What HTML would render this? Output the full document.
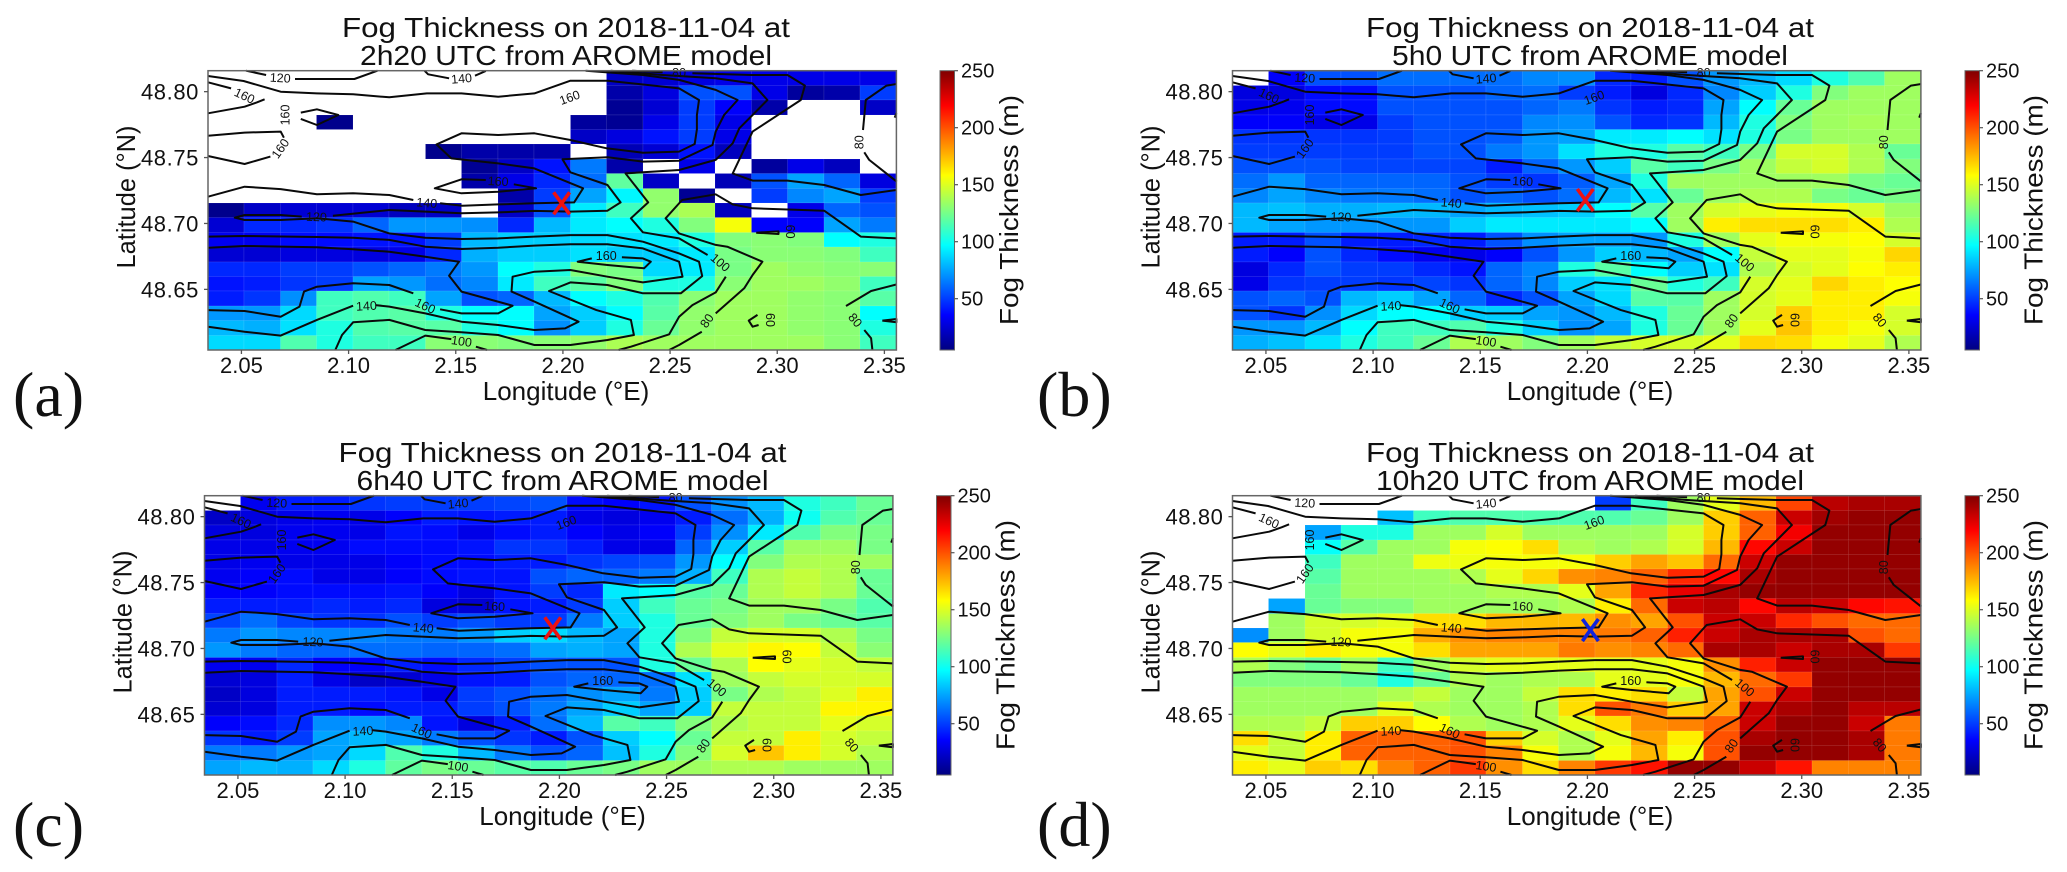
<!DOCTYPE html>
<html lang="en">
<head>
<meta charset="utf-8">
<title>Fog Thickness from AROME model</title>
<style>
html,body{margin:0;padding:0;background:#fff;}
svg{display:block;font-family:"Liberation Sans",Arial,sans-serif;fill:#111;}
.title{font-size:28px;text-anchor:middle;}
.axl{font-size:26px;text-anchor:middle;}
.letter{font-family:"Liberation Serif",serif;font-size:64px;}
</style>
</head>
<body>
<svg id="fig" xmlns="http://www.w3.org/2000/svg" width="2067" height="872" viewBox="0 0 2067 872">
  <g id="panel-a">
    <text class="title" x="566" y="37" textLength="448" lengthAdjust="spacingAndGlyphs">Fog Thickness on 2018-11-04 at</text>
    <text class="title" x="566" y="65" textLength="412" lengthAdjust="spacingAndGlyphs">2h20 UTC from AROME model</text>
    <text class="axl" x="566" y="400">Longitude (°E)</text>
    <text class="axl" transform="translate(135,197) rotate(-90)" textLength="143" lengthAdjust="spacingAndGlyphs">Latitude (°N)</text>
    <text class="axl" transform="translate(1018,210) rotate(-90)" textLength="230" lengthAdjust="spacingAndGlyphs">Fog Thickness (m)</text>
    <text class="letter" x="13" y="416">(a)</text>
  </g>
  <g id="panel-b">
    <text class="title" x="1590" y="37" textLength="448" lengthAdjust="spacingAndGlyphs">Fog Thickness on 2018-11-04 at</text>
    <text class="title" x="1590" y="65" textLength="396" lengthAdjust="spacingAndGlyphs">5h0 UTC from AROME model</text>
    <text class="axl" x="1590" y="400">Longitude (°E)</text>
    <text class="axl" transform="translate(1159.5,197) rotate(-90)" textLength="143" lengthAdjust="spacingAndGlyphs">Latitude (°N)</text>
    <text class="axl" transform="translate(2042.5,210) rotate(-90)" textLength="230" lengthAdjust="spacingAndGlyphs">Fog Thickness (m)</text>
    <text class="letter" x="1037" y="416">(b)</text>
  </g>
  <g id="panel-c">
    <text class="title" x="562.5" y="462" textLength="448" lengthAdjust="spacingAndGlyphs">Fog Thickness on 2018-11-04 at</text>
    <text class="title" x="562.5" y="490" textLength="412" lengthAdjust="spacingAndGlyphs">6h40 UTC from AROME model</text>
    <text class="axl" x="562.5" y="825">Longitude (°E)</text>
    <text class="axl" transform="translate(131.5,622) rotate(-90)" textLength="143" lengthAdjust="spacingAndGlyphs">Latitude (°N)</text>
    <text class="axl" transform="translate(1014.5,635) rotate(-90)" textLength="230" lengthAdjust="spacingAndGlyphs">Fog Thickness (m)</text>
    <text class="letter" x="13" y="846">(c)</text>
  </g>
  <g id="panel-d">
    <text class="title" x="1590" y="462" textLength="448" lengthAdjust="spacingAndGlyphs">Fog Thickness on 2018-11-04 at</text>
    <text class="title" x="1590" y="490" textLength="428" lengthAdjust="spacingAndGlyphs">10h20 UTC from AROME model</text>
    <text class="axl" x="1590" y="825">Longitude (°E)</text>
    <text class="axl" transform="translate(1159.5,622) rotate(-90)" textLength="143" lengthAdjust="spacingAndGlyphs">Latitude (°N)</text>
    <text class="axl" transform="translate(2042.5,635) rotate(-90)" textLength="230" lengthAdjust="spacingAndGlyphs">Fog Thickness (m)</text>
    <text class="letter" x="1037" y="846">(d)</text>
  </g>
</svg>
<script>
const _ = null;
const xTicks = [2.05, 2.10, 2.15, 2.20, 2.25, 2.30, 2.35];
const xTickLabels = ["2.05", "2.10", "2.15", "2.20", "2.25", "2.30", "2.35"];
const yTicks = [48.65, 48.70, 48.75, 48.80];
const yTickLabels = ["48.65", "48.70", "48.75", "48.80"];
const cbarTicks = [50, 100, 150, 200, 250];
const cbarTickLabels = ["50", "100", "150", "200", "250"];
const lonRange = [2.0344, 2.3556];
const latRange = [48.604, 48.8159];
const valueRange = [5, 250];

// thickness per cell, top row first (null = no fog, white)
const thicknessA = [
[_,_,_,_,_,_,_,_,_,_,_,22,25,28,30,30,30,30,30],
[_,_,_,_,_,_,_,_,_,_,_,15,28,55,55,30,12,15,50],
[_,_,_,_,_,_,_,_,_,_,_,10,25,50,35,15,_,_,22],
[_,_,_,8,_,_,_,_,_,_,12,10,30,50,30,_,_,_,_],
[_,_,_,_,_,_,_,_,_,_,22,28,40,50,30,_,_,_,_],
[_,_,_,_,_,_,8,15,15,15,_,18,25,40,20,_,_,_,_],
[_,_,_,_,_,_,_,10,22,40,65,15,_,30,_,12,30,20,_],
[_,_,_,_,_,_,_,15,30,45,62,120,22,_,18,55,75,60,28],
[_,_,_,_,_,_,_,_,15,50,75,95,132,10,_,50,68,75,50],
[8,22,25,25,25,20,22,_,22,55,92,112,132,138,20,_,30,60,55],
[25,45,45,48,60,72,72,70,45,80,92,97,104,128,156,35,35,75,65],
[32,32,38,38,40,40,50,80,85,85,88,90,92,104,128,130,128,97,104],
[25,25,28,28,28,30,45,78,85,85,90,85,85,92,126,130,130,128,112],
[45,45,50,50,55,60,65,72,97,104,128,126,88,92,126,135,132,130,130],
[40,42,48,50,75,72,62,68,92,112,118,128,104,104,130,135,135,132,112],
[42,48,70,112,116,112,75,55,60,80,97,104,116,130,135,135,132,130,118],
[72,72,88,112,116,118,104,97,97,75,85,97,118,132,135,135,132,130,97],
[80,78,90,104,116,118,118,104,97,70,85,104,122,132,135,135,132,130,104],
[88,88,116,104,112,112,130,130,128,130,132,138,135,135,135,135,135,130,112]
];
const thicknessB = [
[_,35,55,55,62,62,62,62,68,70,45,42,55,72,80,88,104,116,135],
[28,28,38,38,55,55,55,60,62,50,42,28,45,68,85,104,128,135,135],
[30,32,38,38,55,55,55,55,60,65,48,42,45,75,97,122,135,135,135],
[35,35,30,30,50,55,55,55,68,70,55,45,48,80,104,128,135,137,135],
[48,48,48,48,50,55,55,58,72,75,92,92,97,90,104,126,135,135,135],
[50,50,50,50,50,55,55,65,72,90,104,104,118,112,126,148,148,139,122],
[55,55,55,52,52,52,52,42,60,72,85,118,112,126,135,144,148,139,128],
[62,72,60,60,60,60,55,50,48,58,75,104,135,135,135,135,135,126,122],
[68,75,68,65,65,62,55,60,55,62,80,90,122,135,139,139,126,122,126],
[80,82,78,78,80,80,75,80,82,85,97,118,135,148,152,156,156,148,135],
[80,75,72,72,72,72,85,92,92,92,92,97,135,162,166,166,166,162,139],
[42,42,55,42,42,45,42,55,70,75,75,72,104,135,152,156,156,158,148],
[42,35,55,45,38,32,30,35,55,72,85,80,75,97,144,152,152,156,168],
[28,45,55,50,50,45,40,60,68,104,118,97,85,90,139,148,152,158,162],
[30,48,50,50,48,52,48,60,68,85,90,122,104,112,148,152,168,162,158],
[55,60,55,80,85,75,60,45,55,75,88,118,118,135,148,152,162,162,156],
[55,48,70,88,97,97,85,85,75,72,80,104,122,135,148,170,162,162,148],
[72,72,80,97,112,112,116,104,85,70,75,104,122,135,152,172,162,156,148],
[78,82,90,104,112,122,139,135,128,135,144,148,148,152,168,166,156,152,139]
];
const thicknessC = [
[_,32,42,42,48,50,50,50,52,55,38,35,40,55,70,80,104,112,122],
[22,28,30,32,30,35,42,40,42,42,30,28,32,42,62,78,100,116,122],
[28,28,32,32,30,40,38,30,38,42,35,30,35,50,70,92,116,128,126],
[30,30,32,32,38,38,38,40,48,48,42,30,30,60,85,118,135,135,126],
[30,32,30,30,30,35,38,38,42,42,48,52,55,72,97,128,139,139,135],
[32,35,38,30,30,35,38,40,40,55,60,60,65,78,112,139,144,139,122],
[35,35,38,38,38,40,35,28,40,50,45,92,97,118,122,139,144,139,122],
[42,42,42,45,42,45,28,25,40,42,50,85,112,122,126,135,135,126,116],
[52,62,52,48,48,55,50,55,50,50,65,85,104,122,128,135,126,122,118],
[65,72,68,68,68,65,65,72,85,88,80,75,104,128,144,148,148,139,126],
[72,65,60,60,62,62,60,60,62,75,78,75,104,139,152,160,158,144,130],
[32,32,45,35,35,42,38,45,50,55,55,55,104,122,139,158,152,148,144],
[25,28,42,30,22,25,30,40,42,55,60,60,62,90,135,144,148,148,148],
[22,28,42,42,42,40,30,50,55,62,70,75,65,85,126,139,144,150,162],
[25,28,42,42,38,42,42,50,55,65,75,85,75,85,144,144,144,160,160],
[35,38,45,70,72,68,40,28,42,62,80,118,112,128,139,144,144,152,148],
[48,42,50,75,80,75,65,55,48,42,55,85,97,122,144,144,162,148,144],
[65,65,72,75,88,116,104,80,65,55,60,82,104,128,148,172,162,148,139],
[75,80,78,88,104,120,126,122,118,116,122,126,135,135,139,139,135,135,135]
];
const thicknessD = [
[_,_,_,_,_,_,_,_,_,_,50,112,135,152,175,203,236,240,240],
[_,_,_,_,82,112,116,116,116,116,116,122,135,170,196,232,242,245,245],
[_,_,75,104,104,135,135,148,135,135,135,135,148,170,196,222,245,245,245],
[_,_,98,118,135,135,156,158,166,139,135,139,148,175,218,232,245,245,245],
[_,_,112,135,135,154,154,156,156,156,170,180,172,194,232,245,245,245,245],
[_,_,118,135,135,135,139,152,168,185,188,196,210,218,240,245,245,245,245],
[_,_,122,135,135,135,135,139,139,152,180,210,225,240,245,245,245,245,245],
[_,75,122,128,128,135,135,135,135,139,162,194,232,236,218,236,232,218,215],
[_,135,148,148,152,166,166,175,175,175,185,180,200,232,232,210,200,194,194],
[70,135,148,156,156,178,185,188,188,188,190,196,212,232,240,240,240,200,194],
[158,152,162,156,156,166,180,180,180,190,185,188,194,240,240,232,240,240,206],
[139,128,122,135,112,135,148,152,152,152,152,152,156,185,212,232,245,245,245],
[128,128,128,122,104,122,139,135,139,139,152,152,156,175,194,206,245,245,245],
[135,135,135,135,139,144,135,135,144,166,162,166,144,180,200,232,245,245,245],
[135,135,135,135,152,139,135,135,139,166,200,190,170,180,232,240,245,236,236],
[139,139,144,170,170,158,139,135,139,152,166,185,188,196,232,245,245,232,190],
[166,144,162,196,196,196,200,170,148,139,152,180,162,200,240,245,245,240,190],
[152,144,162,196,196,196,200,188,156,139,156,175,156,200,245,245,245,240,190],
[162,152,170,166,188,196,206,185,166,188,206,215,245,245,232,215,188,188,188]
];

// site marker position per panel [lon, lat]
const markerA = [2.1994, 48.7153];
const markerB = [2.1990, 48.7178];
const markerC = [2.1969, 48.7153];
const markerD = [2.2014, 48.7140];

// contour lines as [lon, lat] vertices
const contourTop120a = [[2.0521,48.8159],[2.0615,48.8126]];
const contourTop120b = [[2.0750,48.8096],[2.1027,48.8096],[2.1135,48.8159]];
const contourTop140a = [[2.1354,48.8159],[2.1371,48.8132],[2.1469,48.8101]];
const contourTop140b = [[2.1590,48.8121],[2.1640,48.8157]];
const contourLong140a = [[2.0344,48.8119],[2.0510,48.8081],[2.0683,48.8000],[2.0852,48.7987],[2.1021,48.7980],[2.1190,48.7957],[2.1365,48.7987],[2.1527,48.7987],[2.1698,48.7962],[2.1867,48.7987],[2.2035,48.8083],[2.2208,48.8083],[2.2542,48.8025],[2.2635,48.7937],[2.2625,48.7823],[2.2625,48.7714],[2.2615,48.7603],[2.2542,48.7545],[2.2373,48.7537],[2.2204,48.7570],[2.2035,48.7633],[2.1867,48.7684],[2.1698,48.7671],[2.1527,48.7684],[2.1410,48.7600],[2.1479,48.7494],[2.1698,48.7456],[2.1867,48.7418],[2.2094,48.7267],[2.2052,48.7160],[2.1867,48.7153],[2.1698,48.7145],[2.1531,48.7135],[2.1427,48.7153]];
const contourLong140b = [[2.1302,48.7178],[2.1190,48.7216],[2.1021,48.7229],[2.0852,48.7221],[2.0683,48.7261],[2.0515,48.7279],[2.0344,48.7203]];
const contourLong120a = [[2.2106,48.8159],[2.2373,48.8126],[2.2542,48.8089],[2.2713,48.8013],[2.2815,48.7937],[2.2752,48.7823],[2.2713,48.7697],[2.2698,48.7595],[2.2542,48.7476],[2.2373,48.7469],[2.2208,48.7502],[2.1998,48.7487],[2.2035,48.7388],[2.2208,48.7292],[2.2269,48.7160],[2.2208,48.7097],[2.2035,48.7090],[2.1867,48.7095],[2.1698,48.7084],[2.1527,48.7077],[2.1190,48.7102],[2.0927,48.7059]];
const contourLong120b = [[2.0781,48.7052],[2.0683,48.7064],[2.0515,48.7064],[2.0469,48.7044],[2.0515,48.7026],[2.0683,48.7026],[2.0852,48.7039],[2.1021,48.7014],[2.1190,48.6925],[2.1358,48.6892],[2.1527,48.6882],[2.1698,48.6887],[2.1867,48.6900],[2.2035,48.6912],[2.2208,48.6912],[2.2373,48.6862],[2.2542,48.6773],[2.2635,48.6710],[2.2650,48.6601],[2.2550,48.6470],[2.2373,48.6470],[2.2208,48.6533],[2.2035,48.6553],[2.1935,48.6488],[2.2156,48.6343],[2.2317,48.6268],[2.2331,48.6154],[2.2208,48.6116],[2.2035,48.6078],[2.1867,48.6078],[2.1698,48.6154],[2.1527,48.6174],[2.1358,48.6192],[2.1190,48.6268],[2.1021,48.6250],[2.0969,48.6154],[2.0938,48.6040]];
const contour100a = [[2.2223,48.8159],[2.2465,48.8126],[2.2713,48.8101],[2.2885,48.8063],[2.2954,48.7937],[2.2885,48.7823],[2.2823,48.7722],[2.2792,48.7608],[2.2713,48.7482],[2.2542,48.7406],[2.2292,48.7380],[2.2398,48.7160],[2.2317,48.7039],[2.2373,48.6933],[2.2542,48.6887],[2.2675,48.6761]];
const contour100b = [[2.2760,48.6596],[2.2713,48.6477],[2.2604,48.6381],[2.2542,48.6293],[2.2496,48.6159],[2.2317,48.6065],[2.2260,48.6040]];
const contour80a = [[2.2323,48.8159],[2.2465,48.8147]];
const contour80b = [[2.2604,48.8139],[2.2881,48.8126],[2.3048,48.8126],[2.3129,48.8046],[2.3110,48.7937],[2.2885,48.7697],[2.2792,48.7380],[2.2885,48.7325],[2.3048,48.7325],[2.3219,48.7292],[2.3390,48.7216],[2.3556,48.7254]];
const contour80c = [[2.2496,48.6040],[2.2542,48.6078],[2.2648,48.6179]];
const contour80d = [[2.2713,48.6318],[2.2846,48.6508],[2.2885,48.6609],[2.2931,48.6710],[2.2767,48.6824],[2.2713,48.6837],[2.2542,48.6925],[2.2479,48.7039],[2.2556,48.7178],[2.2713,48.7221],[2.2792,48.7145],[2.2885,48.7115],[2.3219,48.7097],[2.3390,48.6900],[2.3556,48.6887]];
const contourMidA = [[2.0344,48.6900],[2.0515,48.6905],[2.0852,48.6897],[2.1021,48.6892],[2.1190,48.6875],[2.1358,48.6824],[2.1527,48.6806],[2.1698,48.6816],[2.1867,48.6832],[2.2035,48.6842],[2.2208,48.6842],[2.2373,48.6811],[2.2542,48.6710],[2.2558,48.6596],[2.2373,48.6553],[2.2208,48.6596],[2.2035,48.6647],[2.1867,48.6634],[2.1765,48.6596],[2.1760,48.6483],[2.1867,48.6407],[2.2073,48.6255],[2.2010,48.6204],[2.1867,48.6192],[2.1698,48.6230],[2.1527,48.6255],[2.1358,48.6318],[2.1190,48.6369],[2.1125,48.6381]];
const contourMidB = [[2.1021,48.6376],[2.0852,48.6268],[2.0683,48.6149],[2.0515,48.6179],[2.0344,48.6217]];
const contourLowA = [[2.0344,48.6816],[2.0515,48.6829],[2.0852,48.6819],[2.1021,48.6804],[2.1190,48.6786],[2.1358,48.6748],[2.1515,48.6710],[2.1469,48.6604],[2.1527,48.6483],[2.1765,48.6376],[2.1698,48.6318],[2.1527,48.6318],[2.1427,48.6349]];
const contourLowB = [[2.1302,48.6470],[2.1190,48.6533],[2.1021,48.6546],[2.0852,48.6520],[2.0792,48.6483],[2.0771,48.6369],[2.0683,48.6293],[2.0515,48.6336],[2.0344,48.6343]];
const contourLoop160a = [[2.2135,48.6735],[2.2069,48.6710],[2.2208,48.6685],[2.2379,48.6660],[2.2410,48.6710],[2.2373,48.6735],[2.2275,48.6743]];
const contourLoop160b = [[2.1640,48.7330],[2.1527,48.7335],[2.1402,48.7267],[2.1527,48.7229],[2.1698,48.7241],[2.1875,48.7267],[2.1771,48.7297]];
const contourDiamond = [[2.0777,48.7841],[2.0852,48.7866],[2.0952,48.7823],[2.0852,48.7747],[2.0777,48.7793]];
const contourLeftA = [[2.0344,48.8071],[2.0452,48.8025]];
const contourLeftB = [[2.0344,48.7836],[2.0515,48.7886],[2.0573,48.7919],[2.0608,48.7942]];
const contourLeftC = [[2.0344,48.7666],[2.0515,48.7689],[2.0683,48.7697],[2.0698,48.7651]];
const contourLeftD = [[2.0635,48.7507],[2.0515,48.7451],[2.0344,48.7512]];
const contourRightA = [[2.3558,48.6538],[2.3438,48.6488],[2.3321,48.6374]];
const contourRightB = [[2.3406,48.6192],[2.3438,48.6129],[2.3444,48.6040]];
const contourRightC = [[2.3558,48.8058],[2.3510,48.8046],[2.3413,48.7937],[2.3400,48.7709]];
const contourRightD = [[2.3406,48.7540],[2.3429,48.7482],[2.3558,48.7317]];
const contourRightE = [[2.3556,48.7836],[2.3548,48.7803]];
const contour100c = [[2.1219,48.6040],[2.1358,48.6149],[2.1479,48.6123]];
const contour100d = [[2.1594,48.6065],[2.1646,48.6040]];
const contourSmall60a = [[2.2902,48.6930],[2.3006,48.6940],[2.3006,48.6920],[2.2902,48.6930]];
const contourSmall60b = [[2.2908,48.6306],[2.2867,48.6263],[2.2885,48.6217],[2.2913,48.6230]];
const contourWedge = [[2.3490,48.6263],[2.3556,48.6275],[2.3556,48.6250],[2.3490,48.6263]];
const contourLines = [contourTop120a,contourTop120b,contourTop140a,contourTop140b,contourLong140a,contourLong140b,contourLong120a,contourLong120b,contour100a,contour100b,contour80a,contour80b,contour80c,contour80d,contourMidA,contourMidB,contourLowA,contourLowB,contourLoop160a,contourLoop160b,contourDiamond,contourLeftA,contourLeftB,contourLeftC,contourLeftD,contourRightA,contourRightB,contourRightC,contourRightD,contourRightE,contour100c,contour100d,contourSmall60a,contourSmall60b,contourWedge];

// contour labels
const contourLabelText = ["120","140","80","160","160","160","160","140","160","120","100","160","160","140","100","80","60","60","80","80"];
const contourLabelLon = [2.0681,2.1527,2.2542,2.0515,2.0704,2.0681,2.2031,2.1365,2.1698,2.0850,2.2735,2.2202,2.1358,2.1083,2.1527,2.2671,2.2969,2.3063,2.3381,2.3365];
const contourLabelLat = [48.8106,48.8101,48.8147,48.7970,48.7823,48.7570,48.7957,48.7158,48.7322,48.7052,48.6705,48.6756,48.6376,48.6376,48.6108,48.6263,48.6268,48.6938,48.7616,48.6268];
const contourLabelAngle = [3,-5,0,25,-90,-55,-20,5,3,2,40,0,25,-3,8,-55,90,90,-90,50];

const panels = [
  {id:"a", left:208, top:70.7, cbar:940, data:thicknessA, marker:markerA, color:"#ee1111"},
  {id:"b", left:1232.5, top:70.7, cbar:1965, data:thicknessB, marker:markerB, color:"#ee1111"},
  {id:"c", left:204.5, top:495.7, cbar:936.5, data:thicknessC, marker:markerC, color:"#ee1111"},
  {id:"d", left:1232.5, top:495.7, cbar:1965, data:thicknessD, marker:markerD, color:"#1122dd"}
];
const AXW = 688.4, AXH = 279.3, CBW = 14.5;
const NS = "http://www.w3.org/2000/svg";

function clip01(v){ return Math.max(0, Math.min(1, v)); }
function jet(t){
  const r = clip01(Math.min(4*t-1.5, -4*t+4.5));
  const g = clip01(Math.min(4*t-0.5, -4*t+3.5));
  const b = clip01(Math.min(4*t+0.5, -4*t+2.5));
  return "rgb(" + Math.round(r*255) + "," + Math.round(g*255) + "," + Math.round(b*255) + ")";
}
function valueColor(v){ return jet(clip01((v-valueRange[0])/(valueRange[1]-valueRange[0]))); }
function mk(tag, attrs, parent){
  const el = document.createElementNS(NS, tag);
  for (const k in attrs) el.setAttribute(k, attrs[k]);
  parent.appendChild(el);
  return el;
}

const defs = mk("defs", {}, document.getElementById("fig"));
const grad = mk("linearGradient", {id:"jet-grad", x1:0, y1:1, x2:0, y2:0}, defs);
for (let i = 0; i <= 32; i++) mk("stop", {offset:i/32, "stop-color":jet(i/32)}, grad);

panels.forEach(function(p){
  const root = document.getElementById("panel-" + p.id);
  const xS = function(lon){ return p.left + (lon-lonRange[0])/(lonRange[1]-lonRange[0])*AXW; };
  const yS = function(lat){ return p.top + (latRange[1]-lat)/(latRange[1]-latRange[0])*AXH; };
  const nR = p.data.length, nC = p.data[0].length;
  const dLon = (lonRange[1]-lonRange[0])/nC, dLat = (latRange[1]-latRange[0])/nR;

  const heat = mk("g", {"shape-rendering":"crispEdges"}, root);
  
  
  p.data.forEach(function(row, r){
    row.forEach(function(v, c){
      if (v === null) return;
      const x0 = xS(lonRange[0]+c*dLon), x1 = xS(lonRange[0]+(c+1)*dLon);
      const y0 = yS(latRange[1]-r*dLat), y1 = yS(latRange[1]-(r+1)*dLat);
      const cell = mk("rect", {x:x0, y:y0, width:x1-x0, height:y1-y0, fill:valueColor(v), stroke:"rgba(255,255,255,0.08)", "stroke-width":1}, heat);
      
      
    });
  });

  const contours = mk("g", {fill:"none", stroke:"#0a0a0a", "stroke-width":2, "stroke-linejoin":"round"}, root);
  
  
  contourLines.forEach(function(line){
    const pts = line.map(function(q){ return xS(q[0]).toFixed(1) + "," + yS(q[1]).toFixed(1); }).join(" ");
    const pl = mk("polyline", {points:pts}, contours);
    
    
  });

  const labels = mk("g", {"font-size":12.5, "text-anchor":"middle", fill:"#111"}, root);
  
  
  contourLabelText.forEach(function(t, i){
    const lx = xS(contourLabelLon[i]), ly = yS(contourLabelLat[i]);
    const lb = mk("text", {transform:"translate(" + lx + "," + ly + ") rotate(" + contourLabelAngle[i] + ")", y:4.5}, labels);
    lb.textContent = t;
    
    
  });

  const mx = xS(p.marker[0]), my = yS(p.marker[1]);
  const mark = mk("g", {stroke:p.color, "stroke-width":3.6, fill:"none"}, root);
  
  
  mk("line", {x1:mx-8, y1:my-11, x2:mx+8, y2:my+11}, mark);
  mk("line", {x1:mx+8, y1:my-11, x2:mx-8, y2:my+11}, mark);

  const frame = mk("rect", {x:p.left, y:p.top, width:AXW, height:AXH, fill:"none", stroke:"#666", "stroke-width":1.5}, root);
  
  

  const bottom = p.top + AXH;
  xTicks.forEach(function(t, i){
    const x = xS(t);
    const tick = mk("line", {x1:x, y1:bottom, x2:x, y2:bottom+4, stroke:"#555", "stroke-width":1.3}, root);
    
    
    const lb = mk("text", {x:x, y:bottom+23, "font-size":22, "text-anchor":"middle"}, root);
    lb.textContent = xTickLabels[i];
    
    
  });
  yTicks.forEach(function(t, i){
    const y = yS(t);
    const tick = mk("line", {x1:p.left-4, y1:y, x2:p.left, y2:y, stroke:"#555", "stroke-width":1.3}, root);
    
    
    const lb = mk("text", {x:p.left-9, y:y+8, "font-size":22, "text-anchor":"end", "letter-spacing":0.6}, root);
    lb.textContent = yTickLabels[i];
    
    
  });

  const cb = mk("rect", {x:p.cbar, y:p.top, width:CBW, height:AXH, fill:"url(#jet-grad)", stroke:"#666", "stroke-width":1}, root);
  
  
  const cS = function(v){ return p.top + AXH - (v-valueRange[0])/(valueRange[1]-valueRange[0])*AXH; };
  cbarTicks.forEach(function(t, i){
    const y = cS(t);
    const tick = mk("line", {x1:p.cbar+CBW, y1:y, x2:p.cbar+CBW+3.5, y2:y, stroke:"#555", "stroke-width":1.2}, root);
    
    
    const lb = mk("text", {x:p.cbar+21, y:y+7, "font-size":20}, root);
    lb.textContent = cbarTickLabels[i];
    
    
  });
});
</script>
</body>
</html>
